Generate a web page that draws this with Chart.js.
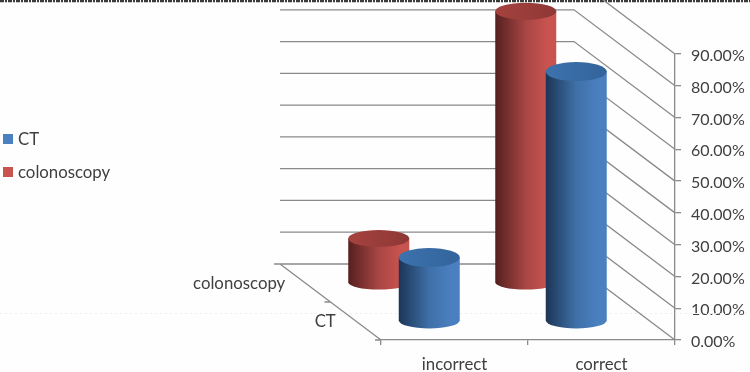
<!DOCTYPE html>
<html>
<head>
<meta charset="utf-8">
<style>
  html, body { margin: 0; padding: 0; background: #fefefe; }
  canvas { display: block; filter: blur(0.35px); }
</style>
<script src="https://cdn.jsdelivr.net/npm/chart.js@4/dist/chart.umd.min.js"></script>
</head>
<body>
<canvas id="chart" width="750" height="372"></canvas>
<script>
const categories = ["incorrect", "correct"];
const seriesNames = ["CT", "colonoscopy"];
const ctValues = [20, 78.5];
const colonoscopyValues = [14, 85.5];
const axisMax = 90;
const axisStep = 10;

const GRID = "#8a8a8a";
const TEXT = "#404040";
const FONT = "16.8px Lato";
// how far the back wall sits from the front plane
const DEPTH_X = -101;
const DEPTH_Y = -76;
// position of each series along the depth axis, 0 = front, 1 = back
const seriesDepth = [0.25, 0.75];
const ELLIPSE_RY = [9.5, 8.5];

const palette = [
  { dark: "#1c3556", mid: "#3f70a8", light: "#4a7fc0", top: "#3d72ad", topDark: "#33649b" },
  { dark: "#55201f", mid: "#a84644", light: "#c9534f", top: "#a5423f", topDark: "#8e3836" }
];

function drawWalls(ctx, chart) {
  const x = chart.scales.x;
  const y = chart.scales.y;
  ctx.save();
  ctx.strokeStyle = GRID;
  ctx.lineWidth = 1.3;
  for (let v = 0; v <= axisMax; v += axisStep) {
    const py = y.getPixelForValue(v);
    ctx.beginPath();
    ctx.moveTo(x.left + DEPTH_X, py + DEPTH_Y);
    ctx.lineTo(x.right + DEPTH_X, py + DEPTH_Y);
    ctx.lineTo(x.right, py);
    ctx.stroke();
  }
  // left floor edge with its small ticks
  const floor = y.getPixelForValue(0);
  ctx.beginPath();
  ctx.moveTo(x.left, floor);
  ctx.lineTo(x.left + DEPTH_X, floor + DEPTH_Y);
  [0, 0.5, 1].forEach(f => {
    ctx.moveTo(x.left + DEPTH_X * f, floor + DEPTH_Y * f);
    ctx.lineTo(x.left + DEPTH_X * f - 6, floor + DEPTH_Y * f);
  });
  ctx.stroke();
  ctx.restore();
}

function drawCylinder(ctx, bar, s) {
  const c = palette[s];
  const dx = DEPTH_X * seriesDepth[s];
  const dy = DEPTH_Y * seriesDepth[s];
  const cx = bar.x + dx;
  const rx = bar.width / 2;
  const ry = ELLIPSE_RY[s];
  const top = bar.y + dy;
  const base = bar.base + dy;

  const side = ctx.createLinearGradient(cx - rx, 0, cx + rx, 0);
  side.addColorStop(0, c.dark);
  side.addColorStop(0.5, c.mid);
  side.addColorStop(0.85, c.light);
  side.addColorStop(1, c.light);
  ctx.fillStyle = side;
  ctx.beginPath();
  ctx.moveTo(cx - rx, top);
  ctx.lineTo(cx - rx, base);
  ctx.ellipse(cx, base, rx, ry * 0.85, 0, Math.PI, 0, true);
  ctx.lineTo(cx + rx, top);
  ctx.closePath();
  ctx.fill();

  const cap = ctx.createLinearGradient(cx - rx, 0, cx + rx, 0);
  cap.addColorStop(0, c.top);
  cap.addColorStop(1, c.topDark);
  ctx.fillStyle = cap;
  ctx.beginPath();
  ctx.ellipse(cx, top, rx, ry, 0, 0, Math.PI * 2);
  ctx.fill();
}

function drawDepthLabels(ctx, chart) {
  const x = chart.scales.x;
  const floor = chart.scales.y.getPixelForValue(0);
  ctx.save();
  ctx.font = FONT;
  ctx.fillStyle = TEXT;
  ctx.textAlign = "right";
  ctx.textBaseline = "middle";
  seriesNames.forEach((name, s) => {
    const px = x.left + DEPTH_X * seriesDepth[s] - 20;
    const py = floor + DEPTH_Y * seriesDepth[s] + 1;
    ctx.fillText(name, px, py);
  });
  ctx.restore();
}

function drawLegend(ctx, chart) {
  ctx.save();
  ctx.font = FONT;
  ctx.textBaseline = "middle";
  chart.data.datasets.forEach((ds, s) => {
    const rowY = 139 + s * 33;
    ctx.fillStyle = palette[s].light;
    ctx.fillRect(3, rowY - 5, 10, 10);
    ctx.fillStyle = TEXT;
    ctx.fillText(ds.label, 18, rowY + 1);
  });
  ctx.restore();
}

function drawScanMarks(ctx) {
  // leftover band of cropped dark text along the top edge, faint line across the scan
  ctx.save();
  ctx.strokeStyle = "#3a3a3a";
  ctx.lineWidth = 2.4;
  ctx.setLineDash([4, 1, 2, 1]);
  ctx.beginPath();
  ctx.moveTo(0, 1);
  ctx.lineTo(750, 1);
  ctx.stroke();
  ctx.strokeStyle = "#eeeeee";
  ctx.lineWidth = 1;
  ctx.setLineDash([2, 3]);
  ctx.beginPath();
  ctx.moveTo(0, 313.5);
  ctx.lineTo(750, 313.5);
  ctx.stroke();
  ctx.restore();
}

const cylinderPlugin = {
  id: "cylinders",
  beforeDatasetsDraw(chart) {
    const ctx = chart.ctx;
    drawScanMarks(ctx);
    drawWalls(ctx, chart);
    // back series first so the front one covers it
    for (let i = 0; i < categories.length; i++) {
      for (let s = chart.data.datasets.length - 1; s >= 0; s--) {
        drawCylinder(ctx, chart.getDatasetMeta(s).data[i], s);
      }
    }
    drawDepthLabels(ctx, chart);
    drawLegend(ctx, chart);
  }
};

new Chart(document.getElementById("chart"), {
  type: "bar",
  data: {
    labels: categories,
    datasets: [
      { label: seriesNames[0], data: ctValues, backgroundColor: "transparent", barThickness: 61, grouped: false },
      { label: seriesNames[1], data: colonoscopyValues, backgroundColor: "transparent", barThickness: 61, grouped: false }
    ]
  },
  options: {
    responsive: false,
    animation: false,
    layout: { padding: { left: 381, top: 54, right: 0, bottom: 0 } },
    plugins: {
      legend: { display: false },
      tooltip: { enabled: false }
    },
    scales: {
      x: {
        grid: { drawOnChartArea: false, color: GRID, tickLength: 5, lineWidth: 1.3 },
        border: { color: GRID, width: 1.3 },
        ticks: { color: TEXT, font: { family: "Lato", size: 16.8 }, padding: 10, maxRotation: 0 },
        afterFit(scale) { scale.height = 32; }
      },
      y: {
        position: "right",
        min: 0,
        max: axisMax,
        grid: { drawOnChartArea: false, color: GRID, tickLength: 6, lineWidth: 1.3 },
        border: { color: GRID, width: 1.3 },
        ticks: {
          stepSize: axisStep,
          color: TEXT,
          font: { family: "Lato", size: 16 },
          padding: 10,
          labelOffset: 2,
          callback: v => v.toFixed(2) + "%"
        },
        afterFit(scale) { scale.width = 75; }
      }
    }
  },
  plugins: [cylinderPlugin]
});
</script>
</body>
</html>
